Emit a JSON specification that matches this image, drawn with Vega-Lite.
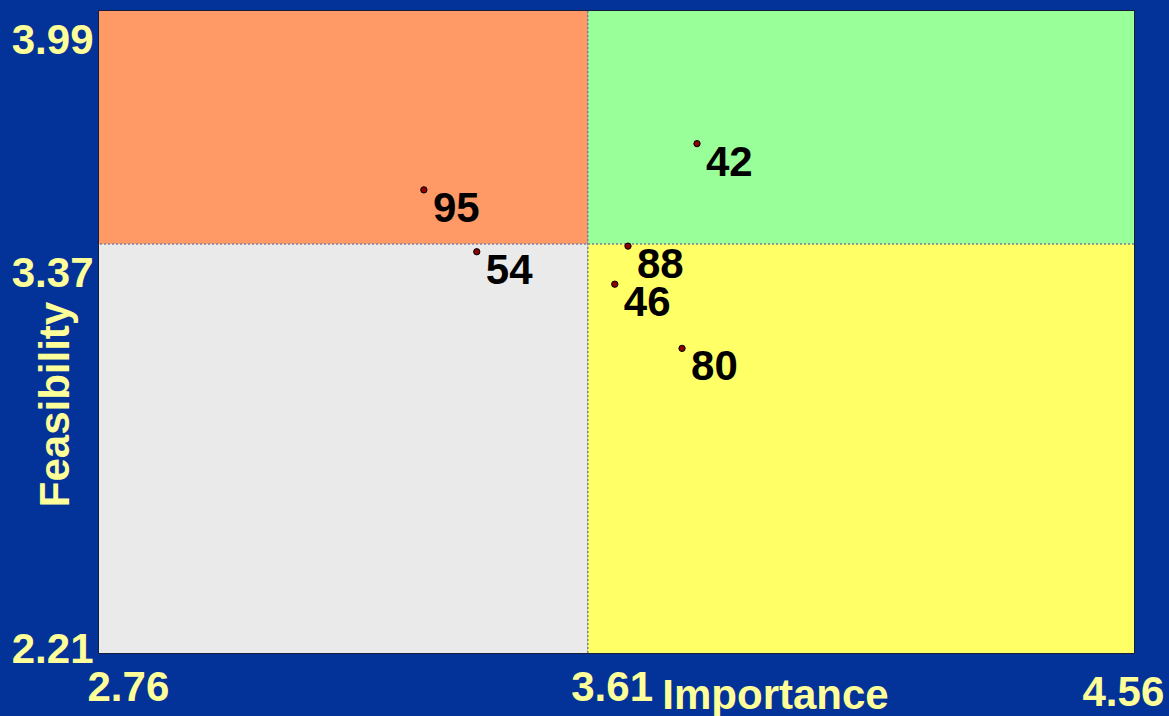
{
  "$schema": "https://vega.github.io/schema/vega-lite/v6.json",
  "width": 1035,
  "height": 642,
  "autosize": {"type": "none"},
  "padding": {"left": 99, "top": 11, "right": 35, "bottom": 63},
  "background": "#033399",
  "config": {
    "view": {"stroke": "#1a1a1a", "strokeWidth": 1.5},
    "font": "Liberation Sans"
  },
  "datasets": {
    "quadrants": [
      {"quadrant": "Low importance / high feasibility", "imp_from": 2.76, "imp_to": 3.61, "feas_from": 3.37, "feas_to": 3.99},
      {"quadrant": "High importance / high feasibility", "imp_from": 3.61, "imp_to": 4.56, "feas_from": 3.37, "feas_to": 3.99},
      {"quadrant": "Low importance / low feasibility", "imp_from": 2.76, "imp_to": 3.61, "feas_from": 2.21, "feas_to": 3.37},
      {"quadrant": "High importance / low feasibility", "imp_from": 3.61, "imp_to": 4.56, "feas_from": 2.21, "feas_to": 3.37}
    ],
    "items": [
      {"id": "42", "importance": 3.800, "feasibility": 3.637},
      {"id": "95", "importance": 3.325, "feasibility": 3.514},
      {"id": "54", "importance": 3.417, "feasibility": 3.348},
      {"id": "88", "importance": 3.680, "feasibility": 3.364},
      {"id": "46", "importance": 3.657, "feasibility": 3.256},
      {"id": "80", "importance": 3.774, "feasibility": 3.074}
    ],
    "means": [
      {"importance_mean": 3.61, "feasibility_mean": 3.37}
    ]
  },
  "layer": [
    {
      "data": {"name": "quadrants"},
      "mark": {"type": "rect", "strokeWidth": 0},
      "encoding": {
        "x": {
          "field": "imp_from",
          "type": "quantitative",
          "scale": {"domain": [2.76, 4.56], "nice": false, "zero": false},
          "axis": {
            "title": "Importance",
            "values": [2.76, 3.61, 4.56],
            "format": ".2f",
            "grid": false,
            "domain": false,
            "ticks": false,
            "labelFont": "Liberation Sans",
            "labelFontSize": 42,
            "labelFontWeight": "bold",
            "labelColor": "#FFFF99",
            "labelAlign": "left",
            "labelBaseline": "alphabetic",
            "labelPadding": {
              "condition": {"test": "datum.value > 4", "value": 52},
              "value": 47
            },
            "labelBound": false,
            "labelFlush": false,
            "labelOverlap": false,
            "labelOffset": {
              "condition": [
                {"test": "datum.value < 3", "value": -12},
                {"test": "datum.value > 4", "value": -52}
              ],
              "value": -17
            },
            "titleFont": "Liberation Sans",
            "titleFontSize": 42,
            "titleFontWeight": "bold",
            "titleColor": "#FFFF99",
            "titleAlign": "center",
            "titleBaseline": "alphabetic",
            "titleX": 676,
            "titleY": 55
          }
        },
        "x2": {"field": "imp_to"},
        "y": {
          "field": "feas_from",
          "type": "quantitative",
          "scale": {"domain": [2.21, 3.37, 3.99], "range": [642, 233, 0], "nice": false, "zero": false},
          "axis": {
            "title": "Feasibility",
            "values": [2.21, 3.37, 3.99],
            "format": ".2f",
            "grid": false,
            "domain": false,
            "ticks": false,
            "labelFont": "Liberation Sans",
            "labelFontSize": 42,
            "labelFontWeight": "bold",
            "labelColor": "#FFFF99",
            "labelAlign": "right",
            "labelBaseline": {
              "condition": {"test": "datum.value < 2.5", "value": "alphabetic"},
              "value": "top"
            },
            "labelOffset": 9,
            "labelPadding": 6,
            "labelBound": false,
            "labelFlush": false,
            "labelOverlap": false,
            "titleFont": "Liberation Sans",
            "titleFontSize": 42,
            "titleFontWeight": "bold",
            "titleColor": "#FFFF99",
            "titleAngle": -90,
            "titleAlign": "center",
            "titleBaseline": "alphabetic",
            "titleX": -31,
            "titleY": 393
          }
        },
        "y2": {"field": "feas_to"},
        "color": {
          "field": "quadrant",
          "type": "nominal",
          "scale": {
            "domain": ["Low importance / high feasibility", "High importance / high feasibility", "Low importance / low feasibility", "High importance / low feasibility"],
            "range": ["#FF9966", "#99FF99", "#EAEAEA", "#FFFF66"]
          },
          "legend": null
        }
      }
    },
    {
      "data": {"name": "means"},
      "mark": {"type": "rule", "color": "#7F7F9F", "strokeWidth": 1.5, "strokeDash": [2, 2]},
      "encoding": {
        "x": {"field": "importance_mean", "type": "quantitative"}
      }
    },
    {
      "data": {"name": "means"},
      "mark": {"type": "rule", "color": "#7F7F9F", "strokeWidth": 1.5, "strokeDash": [2, 2]},
      "encoding": {
        "y": {"field": "feasibility_mean", "type": "quantitative"}
      }
    },
    {
      "data": {"name": "items"},
      "mark": {"type": "point", "shape": "circle", "filled": true, "fill": "#8B0000", "stroke": "#000000", "strokeWidth": 1, "size": 40, "opacity": 1},
      "encoding": {
        "x": {"field": "importance", "type": "quantitative"},
        "y": {"field": "feasibility", "type": "quantitative"}
      }
    },
    {
      "data": {"name": "items"},
      "mark": {"type": "text", "align": "left", "baseline": "alphabetic", "dx": 9, "dy": 32, "font": "Liberation Sans", "fontSize": 42, "fontWeight": "bold", "color": "#000000"},
      "encoding": {
        "x": {"field": "importance", "type": "quantitative"},
        "y": {"field": "feasibility", "type": "quantitative"},
        "text": {"field": "id", "type": "nominal"}
      }
    }
  ]
}
